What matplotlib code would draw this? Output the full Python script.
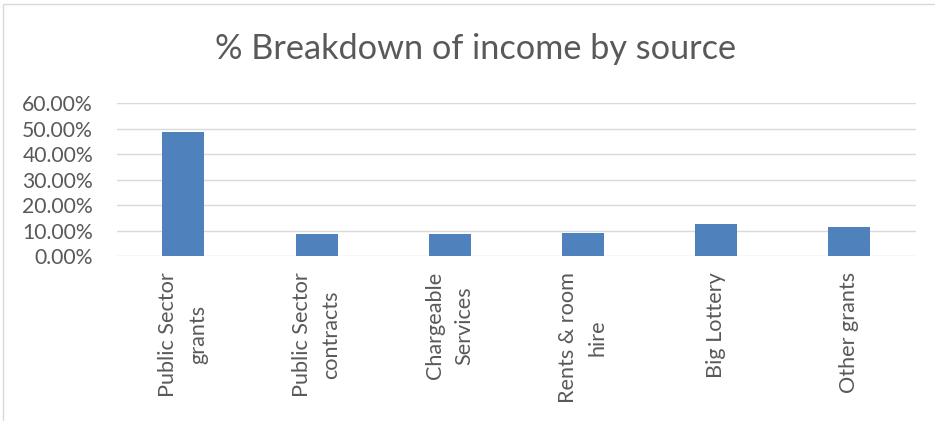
import matplotlib
matplotlib.use("Agg")
import matplotlib.pyplot as plt
from matplotlib.patches import Rectangle
from matplotlib.ticker import PercentFormatter

categories = ["Public Sector\ngrants", "Public Sector\ncontracts", "Chargeable\nServices",
              "Rents & room\nhire", "Big Lottery", "Other grants"]
shares = [0.487, 0.088, 0.088, 0.090, 0.124, 0.114]
y_ticks = [0.0, 0.1, 0.2, 0.3, 0.4, 0.5, 0.6]

plt.rcParams['font.family'] = ['Lato', 'DejaVu Sans']
text_grey = '#595959'

fig = plt.figure(figsize=(9.35, 4.21), dpi=100)
ax = fig.add_axes([0.1248, 0.3919, 0.8549, 0.3627])

x = range(len(categories))
ax.bar(x, shares, width=0.315, color='#4F81BD', zorder=3)

ax.set_xlim(-0.5, len(categories) - 0.5)
ax.set_ylim(0, 0.6)
ax.set_yticks(y_ticks)
ax.yaxis.set_major_formatter(PercentFormatter(1.0, decimals=2))
ax.grid(axis='y', color='#D9D9D9', linewidth=1.0, zorder=0)
ax.set_axisbelow(True)
for s in ax.spines.values():
    s.set_visible(False)

ax.tick_params(axis='y', length=0, pad=17, labelsize=15.2, labelcolor=text_grey)
ax.tick_params(axis='x', length=0, pad=11.5, labelsize=15.6, labelcolor=text_grey)
ax.set_xticks(list(x))
ax.set_xticklabels(categories, rotation=90, va='top', ha='center',
                   multialignment='center', linespacing=1.6)

fig.text(0.509, 0.884, "% Breakdown of income by source", ha='center', va='center',
         fontsize=24.7, color=text_grey)

# chart border
fig.patches.append(Rectangle((3 / 935, -0.05), 1.1, 1 - 4 / 421 + 0.05,
                             transform=fig.transFigure, fill=False,
                             edgecolor='#D9D9D9', linewidth=1.0))

fig.savefig("out.png", dpi=100, facecolor='white')
